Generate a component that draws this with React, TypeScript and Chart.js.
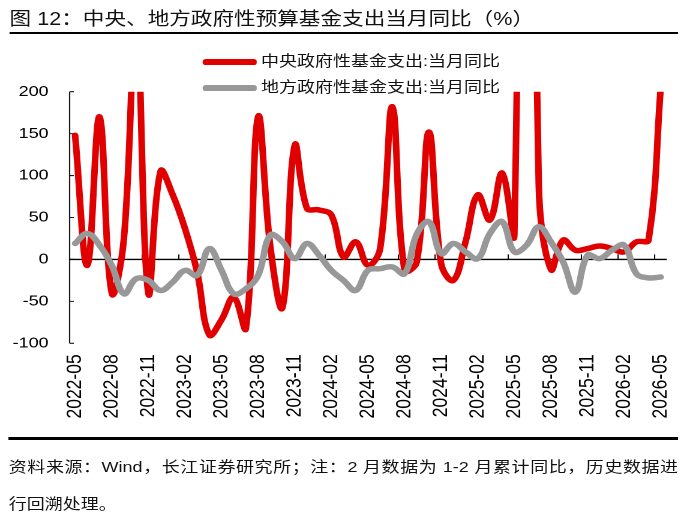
import React, { useEffect, useRef } from "react";
import { Chart, registerables } from "chart.js";

Chart.register(...registerables);

const months = [
  "2022-05", "2022-06", "2022-07", "2022-08", "2022-09", "2022-10", "2022-11", "2022-12",
  "2023-01", "2023-02", "2023-03", "2023-04", "2023-05", "2023-06", "2023-07", "2023-08",
  "2023-09", "2023-10", "2023-11", "2023-12", "2024-01", "2024-02", "2024-03", "2024-04",
  "2024-05", "2024-06", "2024-07", "2024-08", "2024-09", "2024-10", "2024-11", "2024-12",
  "2025-01", "2025-02", "2025-03", "2025-04", "2025-05", "2025-06", "2025-07", "2025-08",
  "2025-09", "2025-10", "2025-11", "2025-12", "2026-01", "2026-02", "2026-03", "2026-04",
  "2026-05",
];

const centralSpending = [
  148, -7, 170, -40, 25, 290, -40, 105,
  77, 37, -15, -90, -72, -45, -82, 170,
  15, -57, 136, 61, 59, 53, 3, 21,
  -7, 13, 182, -13, -3, 152, -5, -25,
  21, 77, 47, 103, 30, 1500, 90, -12,
  23, 11, 13, 16, 13, 9, 21, 23,
  205,
];

const localSpending = [
  19, 31, 17, -7, -41, -23, -25, -37,
  -27, -13, -19, 13, -13, -41, -35, -19,
  29, 21, 1, 19, 5, -13, -25, -37,
  -13, -11, -9, -17, 30, 45, 7, 19,
  9, 1, 31, 45, 9, 17, 39, 21,
  -3, -39, 5, 1, 11, 17, -17, -22,
  -21,
];

const yTickValues = [-100, -50, 0, 50, 100, 150, 200];

const centralName = "中央政府性基金支出:当月同比";
const localName = "地方政府性基金支出:当月同比";
const titleText = "图 12：中央、地方政府性预算基金支出当月同比（%）";
const noteLine1 = "资料来源：Wind，长江证券研究所；注：2 月数据为 1-2 月累计同比，历史数据进";
const noteLine2 = "行回溯处理。";

const RED = "#E00000";
const GRAY = "#989898";
const SX = 1.2;
const W = 570;
const H = 522;
const FONT = '"Liberation Sans", "Noto Sans CJK SC", sans-serif';

const axesPlugin = {
  id: "refAxes",
  beforeDatasetsDraw(chart: any) {
    const { ctx, chartArea, scales } = chart;
    const xs = scales.x;
    const ys = scales.y;
    ctx.save();
    ctx.strokeStyle = "#1a1a1a";
    ctx.lineWidth = 1.1;
    const ax = chartArea.left + 0.5;
    ctx.beginPath();
    ctx.moveTo(ax, ys.getPixelForValue(200));
    ctx.lineTo(ax, ys.getPixelForValue(-100));
    yTickValues.forEach((v) => {
      const py = ys.getPixelForValue(v);
      ctx.moveTo(ax, py);
      ctx.lineTo(ax + 3.5, py);
    });
    ctx.stroke();
    const zy = ys.getPixelForValue(0);
    ctx.beginPath();
    ctx.lineWidth = 1.4;
    ctx.strokeStyle = "#000";
    ctx.moveTo(chartArea.left, zy);
    ctx.lineTo(chartArea.right, zy);
    ctx.stroke();
    const step = xs.getPixelForValue(1) - xs.getPixelForValue(0);
    ctx.beginPath();
    ctx.lineWidth = 1;
    for (let k = 3; k < months.length; k += 3) {
      const px = xs.getPixelForValue(k) - step / 2;
      ctx.moveTo(px, zy);
      ctx.lineTo(px, zy - 5);
    }
    ctx.stroke();
    ctx.restore();
  },
};

function ChartCanvas() {
  const ref = useRef<HTMLCanvasElement | null>(null);
  useEffect(() => {
    if (!ref.current) return;
    const chart = new Chart(ref.current, {
      type: "line",
      data: {
        labels: months,
        datasets: [
          {
            label: centralName,
            data: centralSpending,
            borderColor: RED,
            backgroundColor: RED,
            borderWidth: 5.5,
            pointRadius: 0,
            tension: 0.4,
            order: 1,
            borderCapStyle: "round",
            borderJoinStyle: "round",
            clip: { left: 6, right: 6, top: 0, bottom: 6 } as any,
          },
          {
            label: localName,
            data: localSpending,
            borderColor: GRAY,
            backgroundColor: GRAY,
            borderWidth: 5.5,
            pointRadius: 0,
            tension: 0.4,
            order: 0,
            borderCapStyle: "round",
            borderJoinStyle: "round",
            clip: { left: 6, right: 6, top: 0, bottom: 6 } as any,
          },
        ],
      },
      options: {
        responsive: false,
        animation: false,
        devicePixelRatio: 2,
        elements: { line: { capBezierPoints: false } },
        layout: { padding: { left: 0, right: 14.3, top: 91.7, bottom: 0 } },
        plugins: {
          legend: { display: false },
          title: { display: false },
          tooltip: { enabled: false },
        },
        scales: {
          x: {
            type: "category",
            offset: true,
            grid: { display: false, drawTicks: false },
            border: { display: false },
            ticks: {
              autoSkip: false,
              maxRotation: 90,
              minRotation: 90,
              padding: 11,
              color: "#000",
              font: { family: FONT, size: 17.5 },
              callback: (_v: any, i: number) => (i % 3 === 0 ? months[i] : ""),
            },
            afterFit: (scale: any) => {
              scale.height = H - 343.3;
              scale.paddingLeft = 0;
              scale.paddingRight = 0;
            },
          },
          y: {
            min: -100,
            max: 200,
            grid: { display: false, drawTicks: false },
            border: { display: false },
            ticks: {
              stepSize: 50,
              padding: 17,
              color: "#000",
              font: { family: FONT, size: 15 },
            },
            afterFit: (scale: any) => {
              scale.width = 57.5;
              scale.paddingTop = 0;
              scale.paddingBottom = 0;
            },
          },
        },
      },
      plugins: [axesPlugin],
    });
    return () => chart.destroy();
  }, []);
  return (
    <canvas
      ref={ref}
      width={W}
      height={H}
      style={{ position: "absolute", left: 0, top: 0, width: W, height: H }}
    />
  );
}

export default function App() {
  const legendRow = (color: string, text: string, cy: number) => (
    <>
      <div
        style={{
          position: "absolute",
          left: 169,
          top: cy - 2.6,
          width: 44.5,
          height: 5.2,
          borderRadius: 2.6,
          background: color,
        }}
      />
      <div
        style={{
          position: "absolute",
          left: 217.5,
          top: cy - 11,
          height: 20,
          lineHeight: "20px",
          fontSize: 15,
          fontFamily: FONT,
          color: "#111",
          whiteSpace: "nowrap",
        }}
      >
        {text}
      </div>
    </>
  );
  return (
    <div
      style={{
        position: "absolute",
        left: 0,
        top: 0,
        width: 684,
        height: 522,
        overflow: "hidden",
        background: "#fff",
      }}
    >
      <div
        style={{
          position: "absolute",
          left: 0,
          top: 0,
          width: W,
          height: H,
          transform: `scaleX(${SX})`,
          transformOrigin: "0 0",
        }}
      >
        <div
          style={{
            position: "absolute",
            left: 8,
            top: 7,
            height: 24,
            lineHeight: "24px",
            fontSize: 18,
            fontFamily: FONT,
            color: "#111",
            whiteSpace: "nowrap",
          }}
        >
          {titleText}
        </div>
        <div style={{ position: "absolute", left: 7.5, top: 31.5, width: 557.5, height: 2, background: "#000" }} />
        {legendRow(RED, centralName, 62)}
        {legendRow(GRAY, localName, 88)}
        <ChartCanvas />
        <div style={{ position: "absolute", left: 7.3, top: 437, width: 557.8, height: 2.5, background: "#000" }} />
        <div
          style={{
            position: "absolute",
            left: 7.3,
            top: 456,
            width: 557.8,
            height: 22,
            lineHeight: "22px",
            fontSize: 15,
            fontFamily: FONT,
            color: "#111",
            whiteSpace: "nowrap",
            textAlign: "justify",
            textAlignLast: "justify",
          }}
        >
          {noteLine1}
        </div>
        <div
          style={{
            position: "absolute",
            left: 7.3,
            top: 493,
            height: 22,
            lineHeight: "22px",
            fontSize: 15,
            fontFamily: FONT,
            color: "#111",
            whiteSpace: "nowrap",
          }}
        >
          {noteLine2}
        </div>
      </div>
    </div>
  );
}
